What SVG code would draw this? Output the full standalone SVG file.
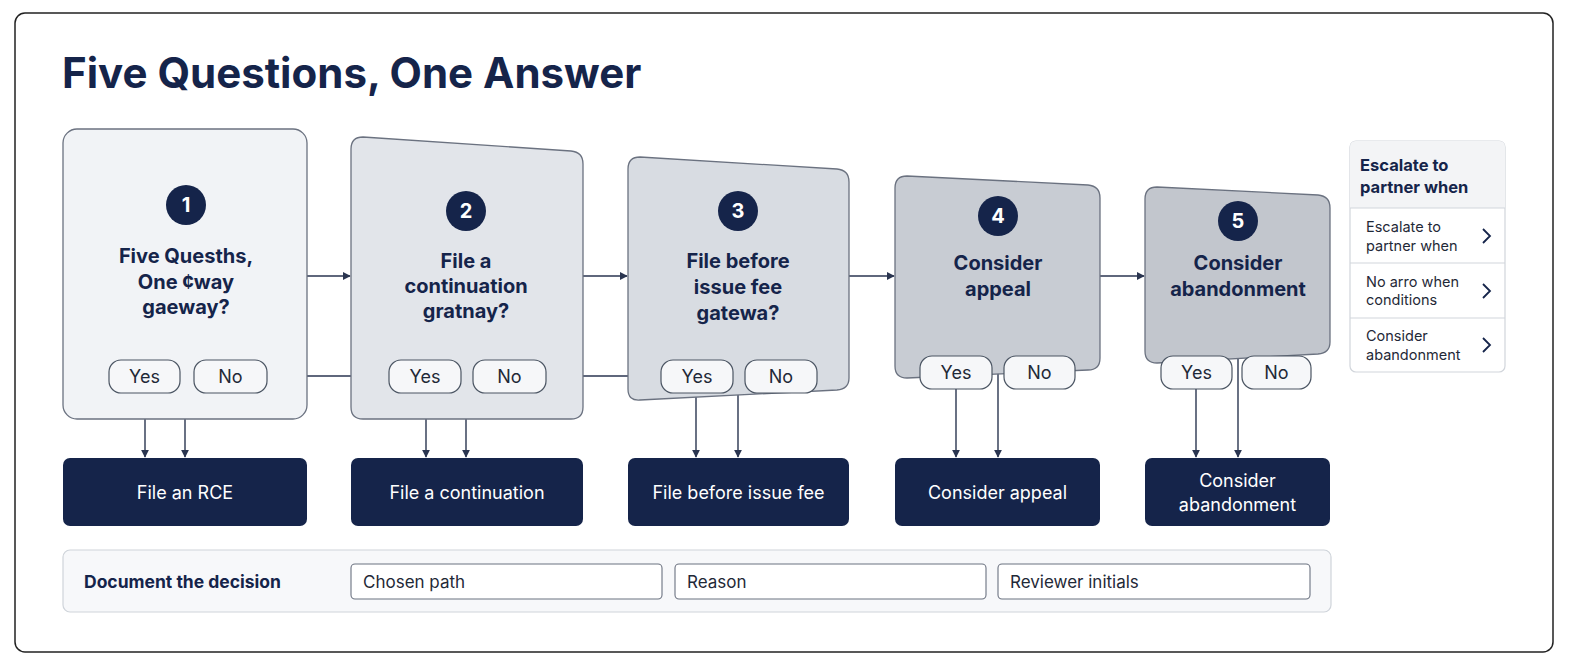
<svg xmlns="http://www.w3.org/2000/svg" width="1584" height="672" viewBox="0 0 1584 672">
<defs>
<marker id="ah" viewBox="0 0 10 10" refX="9" refY="5" markerWidth="8" markerHeight="8" markerUnits="userSpaceOnUse" orient="auto"><path d="M0,0 L10,5 L0,10 z" fill="#2a3550"/></marker>
<style>
text{font-family:Inter,"Liberation Sans",sans-serif;fill:#15244a}
.card{stroke:#6b7280;stroke-width:1.3}
.q{font-size:20px;font-weight:700;text-anchor:middle}
.num{fill:#fff;font-size:20px;font-weight:700;text-anchor:middle}
.pill{fill:#f6f7f9;stroke:#4b5563;stroke-width:1.2}
.pt{font-size:18px;text-anchor:middle;fill:#1f2937}
.out{fill:#15244a}
.ot{fill:#fff;font-size:18px;text-anchor:middle}
.ln{stroke:#2a3550;stroke-width:1.4;fill:none}
.fld{fill:#fff;stroke:#6b7280;stroke-width:1.1}
.ft{font-size:17px;fill:#1f2937}
.rt{font-size:14.5px;fill:#1f2937}
.chev{stroke:#15244a;stroke-width:1.8;fill:none}
</style>
</defs>
<rect x="0" y="0" width="1584" height="672" fill="#fff"/>
<rect x="15" y="13" width="1538" height="639" rx="10" fill="#fff" stroke="#222" stroke-width="1.5"/>
<text x="62" y="88" font-size="42" font-weight="700">Five Questions, One Answer</text>

<g id="connectors">
<path class="ln" marker-end="url(#ah)" d="M307,276 H350"/>
<path class="ln" marker-end="url(#ah)" d="M583,276 H627"/>
<path class="ln" marker-end="url(#ah)" d="M849,276 H894"/>
<path class="ln" marker-end="url(#ah)" d="M1100,276 H1144"/>
<path class="ln" marker-end="url(#ah)" d="M267,376 H388"/>
<path class="ln" marker-end="url(#ah)" d="M546,376 H660"/>
<path class="ln" marker-end="url(#ah)" d="M145,393 V457"/>
<path class="ln" marker-end="url(#ah)" d="M185,419 V457"/>
<path class="ln" marker-end="url(#ah)" d="M426,393 V457"/>
<path class="ln" marker-end="url(#ah)" d="M466,419 V457"/>
<path class="ln" marker-end="url(#ah)" d="M696,393 V457"/>
<path class="ln" marker-end="url(#ah)" d="M733,376 H738 V457"/>
<path class="ln" marker-end="url(#ah)" d="M956,389 V457"/>
<path class="ln" marker-end="url(#ah)" d="M998,372 V457"/>
<path class="ln" marker-end="url(#ah)" d="M1196,389 V457"/>
<path class="ln" marker-end="url(#ah)" d="M1238,357 V457"/>
</g>

<g id="node1">
<rect class="card" x="63" y="129" width="244" height="290" rx="14" fill="#f1f3f6"/>
<circle cx="186" cy="205" r="20" fill="#15244a"/><text class="num" x="186" y="212">1</text>
<text class="q" x="186" y="263">Five Quesths,</text>
<text class="q" x="186" y="289">One ¢way</text>
<text class="q" x="186" y="314">gaeway?</text>
<rect class="pill" x="109" y="360" width="71" height="33" rx="12"/><text class="pt" x="144.5" y="383">Yes</text>
<rect class="pill" x="194" y="360" width="73" height="33" rx="12"/><text class="pt" x="230.5" y="383">No</text>
</g>
<g id="node2">
<path class="card" fill="#e2e5ea" d="M363,137 L571,151 Q583,152 583,164 V407 Q583,419 571,419 H363 Q351,419 351,407 V149 Q351,137 363,137 Z"/>
<circle cx="466" cy="211" r="20" fill="#15244a"/><text class="num" x="466" y="218">2</text>
<text class="q" x="466" y="268">File a</text>
<text class="q" x="466" y="293">continuation</text>
<text class="q" x="466" y="318">gratnay?</text>
<rect class="pill" x="389" y="360" width="72" height="33" rx="12"/><text class="pt" x="425" y="383">Yes</text>
<rect class="pill" x="473" y="360" width="73" height="33" rx="12"/><text class="pt" x="509.5" y="383">No</text>
</g>
<g id="node3">
<path class="card" fill="#d8dce2" d="M640,157 L837,169 Q849,170 849,182 V378 Q849,389 837,390 L640,400 Q628,401 628,389 V169 Q628,157 640,157 Z"/>
<circle cx="738" cy="211" r="20" fill="#15244a"/><text class="num" x="738" y="218">3</text>
<text class="q" x="738" y="268">File before</text>
<text class="q" x="738" y="294">issue fee</text>
<text class="q" x="738" y="320">gatewa?</text>
<rect class="pill" x="661" y="360" width="72" height="33" rx="12"/><text class="pt" x="697" y="383">Yes</text>
<rect class="pill" x="745" y="360" width="72" height="33" rx="12"/><text class="pt" x="781" y="383">No</text>
</g>
<g id="node4">
<path class="card" fill="#c8ccd3" d="M907,176 L1088,185 Q1100,186 1100,198 V358 Q1100,370 1088,370 L907,378 Q895,378 895,366 V188 Q895,176 907,176 Z"/>
<circle cx="998" cy="216" r="20" fill="#15244a"/><text class="num" x="998" y="223">4</text>
<text class="q" x="998" y="270">Consider</text>
<text class="q" x="998" y="296">appeal</text>
<rect class="pill" x="920" y="356" width="72" height="33" rx="12"/><text class="pt" x="956" y="379">Yes</text>
<rect class="pill" x="1004" y="356" width="71" height="33" rx="12"/><text class="pt" x="1039.5" y="379">No</text>
</g>
<g id="node5">
<path class="card" fill="#c2c6cd" d="M1157,187 L1318,195 Q1330,196 1330,208 V342 Q1330,353 1318,354 L1157,363 Q1145,363 1145,351 V199 Q1145,187 1157,187 Z"/>
<circle cx="1238" cy="221" r="20" fill="#15244a"/><text class="num" x="1238" y="228">5</text>
<text class="q" x="1238" y="270">Consider</text>
<text class="q" x="1238" y="296">abandonment</text>
<rect class="pill" x="1161" y="356" width="71" height="33" rx="12"/><text class="pt" x="1196.5" y="379">Yes</text>
<rect class="pill" x="1242" y="356" width="69" height="33" rx="12"/><text class="pt" x="1276.5" y="379">No</text>
</g>

<g id="out1"><rect class="out" x="63" y="458" width="244" height="68" rx="7"/><text class="ot" x="185" y="499">File an RCE</text></g>
<g id="out2"><rect class="out" x="351" y="458" width="232" height="68" rx="7"/><text class="ot" x="467" y="499">File a continuation</text></g>
<g id="out3"><rect class="out" x="628" y="458" width="221" height="68" rx="7"/><text class="ot" x="738.5" y="499">File before issue fee</text></g>
<g id="out4"><rect class="out" x="895" y="458" width="205" height="68" rx="7"/><text class="ot" x="997.5" y="499">Consider appeal</text></g>
<g id="out5"><rect class="out" x="1145" y="458" width="185" height="68" rx="7"/><text class="ot" x="1237.5" y="487">Consider</text><text class="ot" x="1237.5" y="511">abandonment</text></g>

<g id="document">
<rect x="63" y="550" width="1268" height="62" rx="7" fill="#f7f8fa" stroke="#cfd4da" stroke-width="1.2"/>
<text x="84" y="588" font-size="17.5" font-weight="700">Document the decision</text>
<rect class="fld" x="351" y="564" width="311" height="35" rx="4"/><text class="ft" x="363" y="588">Chosen path</text>
<rect class="fld" x="675" y="564" width="311" height="35" rx="4"/><text class="ft" x="687" y="588">Reason</text>
<rect class="fld" x="998" y="564" width="312" height="35" rx="4"/><text class="ft" x="1010" y="588">Reviewer initials</text>
</g>

<g id="escalate">
<rect x="1350" y="141" width="155" height="231" rx="6" fill="#fff" stroke="#d1d5db" stroke-width="1.2"/>
<path d="M1350,208 V147 Q1350,141 1356,141 H1499 Q1505,141 1505,147 V208 Z" fill="#f3f4f6"/>
<text x="1360" y="171" font-size="16.5" font-weight="700">Escalate to</text>
<text x="1360" y="193" font-size="16.5" font-weight="700">partner when</text>
<path d="M1350,208 H1505 M1350,263 H1505 M1350,318 H1505" stroke="#d1d5db" stroke-width="1.2"/>
<text class="rt" x="1366" y="232">Escalate to</text><text class="rt" x="1366" y="251">partner when</text>
<path class="chev" d="M1483,229 L1490,236 L1483,243"/>
<text class="rt" x="1366" y="287">No arro when</text><text class="rt" x="1366" y="305">conditions</text>
<path class="chev" d="M1483,284 L1490,291 L1483,298"/>
<text class="rt" x="1366" y="341">Consider</text><text class="rt" x="1366" y="360">abandonment</text>
<path class="chev" d="M1483,338 L1490,345 L1483,352"/>
</g>
</svg>
